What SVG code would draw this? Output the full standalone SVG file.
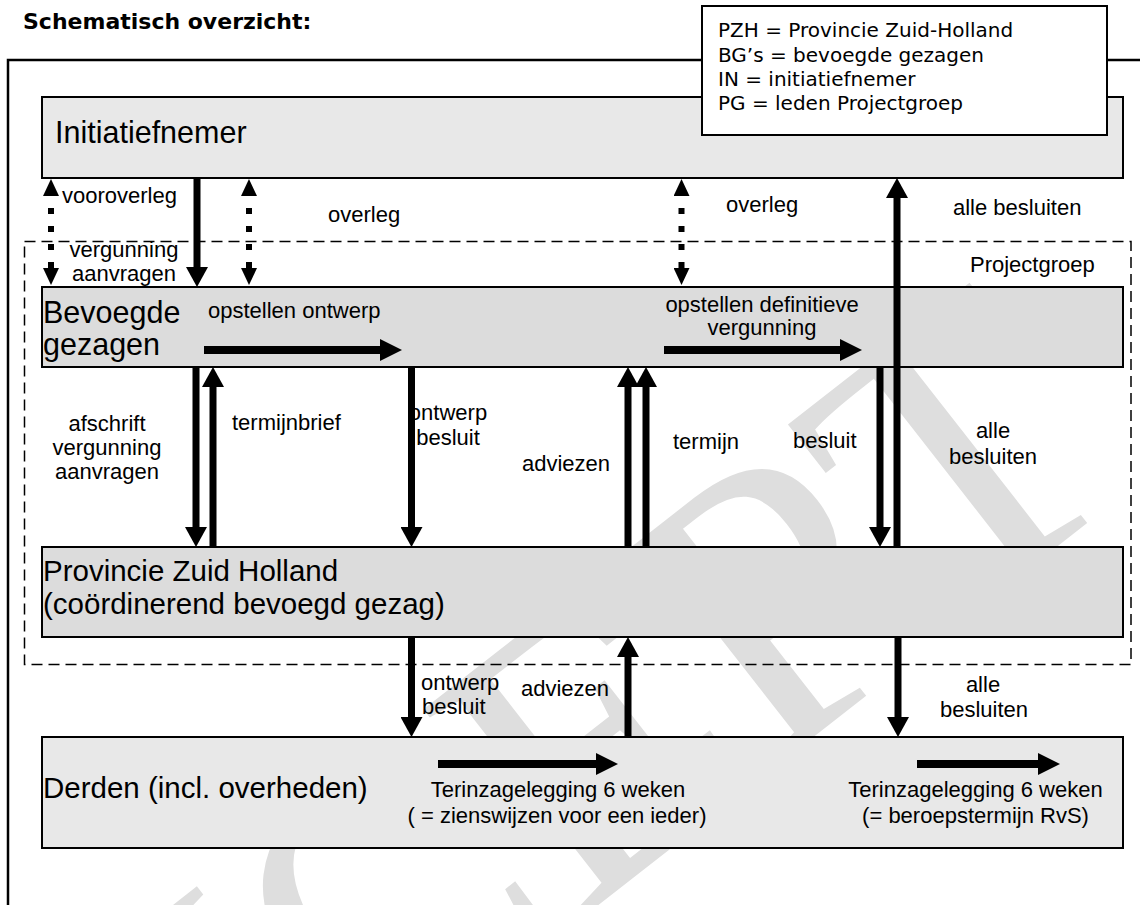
<svg xmlns="http://www.w3.org/2000/svg" width="1140" height="905" viewBox="0 0 1140 905">
<style>
.t{font-family:"Liberation Sans",Arial,sans-serif;fill:#000}
.lbl{font-size:22px}
.ttl{font-size:30.5px}
.ttl2{font-size:29.5px}
.lg{font-family:"DejaVu Sans",Verdana,sans-serif;font-size:20px;fill:#000}
.b1{fill:#e8e8e8;stroke:#000;stroke-width:2}
.b2{fill:#dcdcdc;stroke:#000;stroke-width:2}
.sh{stroke:#000;stroke-width:7;fill:none}
.hs{stroke:#000;stroke-width:8;fill:none}
.dt{stroke:#000;stroke-width:6;fill:none;stroke-dasharray:6 12;stroke-dashoffset:6}
.wm{font-family:"Liberation Serif","Times New Roman",serif;font-size:400px;fill:#dedede}
</style>
<defs>
<marker id="ah" markerUnits="userSpaceOnUse" markerWidth="20" markerHeight="22" viewBox="0 0 20 22" refX="0" refY="11" orient="auto"><path d="M0,0 L20,11 L0,22 z" fill="#000"/></marker>
<marker id="ahh" markerUnits="userSpaceOnUse" markerWidth="22" markerHeight="22" viewBox="0 0 22 22" refX="0" refY="11" orient="auto"><path d="M0,0 L22,11 L0,22 z" fill="#000"/></marker>
<marker id="as" markerUnits="userSpaceOnUse" markerWidth="17" markerHeight="16" viewBox="0 0 17 16" refX="0" refY="8" orient="auto-start-reverse"><path d="M0,0 L17,8 L0,16 z" fill="#000"/></marker>
</defs>
<rect width="1140" height="905" fill="#fff"/>
<g id="watermark">
<text class="wm" x="0" y="0" text-anchor="end" transform="translate(1136 485) rotate(-38)">CONCEPT</text>
</g>
<path d="M8,905 L8,60 L1140,60" fill="none" stroke="#000" stroke-width="2.5"/>
<text x="23" y="29" font-family="'DejaVu Sans',Verdana,sans-serif" font-weight="bold" font-size="22">Schematisch overzicht:</text>
<g id="projectgroep">
<rect x="24.5" y="241.5" width="1106.5" height="423" fill="none" stroke="#000" stroke-width="1.5" stroke-dasharray="11 6"/>
<text class="t lbl" x="970" y="272">Projectgroep</text>
</g>
<g id="initiatiefnemer">
<rect class="b1" x="42" y="97" width="1081" height="81"/>
<text class="t ttl" x="55" y="143">Initiatiefnemer</text>
</g>
<g id="bevoegde-gezagen">
<rect class="b2" x="42" y="287" width="1081" height="80"/>
<text class="t ttl" x="43" y="323">Bevoegde</text>
<text class="t ttl" x="43" y="355">gezagen</text>
</g>
<g id="pzh">
<rect class="b2" x="42" y="547" width="1081" height="90"/>
<text class="t ttl2" x="43" y="581">Provincie Zuid Holland</text>
<text class="t ttl2" x="43" y="614">(coördinerend bevoegd gezag)</text>
</g>
<g id="derden">
<rect class="b1" x="42" y="737" width="1081" height="111"/>
<text class="t ttl2" x="43" y="798">Derden (incl. overheden)</text>
</g>
<g id="legend">
<rect x="702" y="6" width="405" height="129" fill="#fff" stroke="#000" stroke-width="2"/>
<text class="lg" x="718" y="37">PZH = Provincie Zuid-Holland</text>
<text class="lg" x="718" y="61.5">BG’s = bevoegde gezagen</text>
<text class="lg" x="718" y="86">IN = initiatiefnemer</text>
<text class="lg" x="718" y="110">PG = leden Projectgroep</text>
</g>
<g id="connectors">
<line class="dt" x1="51" y1="196" x2="51" y2="268" marker-start="url(#as)" marker-end="url(#as)"/>
<line class="dt" x1="249" y1="196" x2="249" y2="268" marker-start="url(#as)" marker-end="url(#as)"/>
<line class="dt" x1="681.5" y1="196" x2="681.5" y2="268" marker-start="url(#as)" marker-end="url(#as)"/>
<line class="sh" x1="197" y1="178" x2="197" y2="267" marker-end="url(#ah)"/>
<line class="sh" x1="897" y1="547" x2="897" y2="198" marker-end="url(#ah)"/>
<line class="sh" x1="196" y1="367" x2="196" y2="527" marker-end="url(#ah)"/>
<line class="sh" x1="213" y1="547" x2="213" y2="387" marker-end="url(#ah)"/>
<line class="sh" x1="411.5" y1="367" x2="411.5" y2="527" marker-end="url(#ah)"/>
<line class="sh" x1="628" y1="547" x2="628" y2="387" marker-end="url(#ah)"/>
<line class="sh" x1="646" y1="547" x2="646" y2="387" marker-end="url(#ah)"/>
<line class="sh" x1="880" y1="367" x2="880" y2="527" marker-end="url(#ah)"/>
<line class="sh" x1="411.5" y1="637" x2="411.5" y2="717" marker-end="url(#ah)"/>
<line class="sh" x1="628" y1="737" x2="628" y2="657" marker-end="url(#ah)"/>
<line class="sh" x1="898" y1="637" x2="898" y2="717" marker-end="url(#ah)"/>
<line class="hs" x1="204" y1="350" x2="380" y2="350" marker-end="url(#ahh)"/>
<line class="hs" x1="664" y1="350" x2="840" y2="350" marker-end="url(#ahh)"/>
<line class="hs" x1="438" y1="764" x2="596" y2="764" marker-end="url(#ahh)"/>
<line class="hs" x1="917" y1="764" x2="1038" y2="764" marker-end="url(#ahh)"/>
</g>
<g id="labels" class="t lbl">
<text x="62" y="203">vooroverleg</text>
<text x="124" y="257" text-anchor="middle">vergunning</text>
<text x="124" y="281" text-anchor="middle">aanvragen</text>
<text x="328" y="222">overleg</text>
<text x="726" y="212">overleg</text>
<text x="953" y="215">alle besluiten</text>
<text x="208" y="318">opstellen ontwerp</text>
<text x="762" y="312" text-anchor="middle">opstellen definitieve</text>
<text x="762" y="335" text-anchor="middle">vergunning</text>
<text x="107" y="431" text-anchor="middle">afschrift</text>
<text x="107" y="455" text-anchor="middle">vergunning</text>
<text x="107" y="479" text-anchor="middle">aanvragen</text>
<text x="232" y="430">termijnbrief</text>
<text x="448" y="420" text-anchor="middle">ontwerp</text>
<text x="448" y="445" text-anchor="middle">besluit</text>
<text x="610" y="471" text-anchor="end">adviezen</text>
<text x="673" y="449">termijn</text>
<text x="793" y="448">besluit</text>
<text x="993" y="438" text-anchor="middle">alle</text>
<text x="993" y="464" text-anchor="middle">besluiten</text>
<text x="421" y="690">ontwerp</text>
<text x="422" y="714">besluit</text>
<text x="521" y="696">adviezen</text>
<text x="983" y="692" text-anchor="middle">alle</text>
<text x="984" y="717" text-anchor="middle">besluiten</text>
<text x="558" y="797" text-anchor="middle">Terinzagelegging 6 weken</text>
<text x="557" y="823" text-anchor="middle">( = zienswijzen voor een ieder)</text>
<text x="975.5" y="797" text-anchor="middle">Terinzagelegging 6 weken</text>
<text x="975.5" y="823" text-anchor="middle">(= beroepstermijn RvS)</text>
</g>
</svg>
